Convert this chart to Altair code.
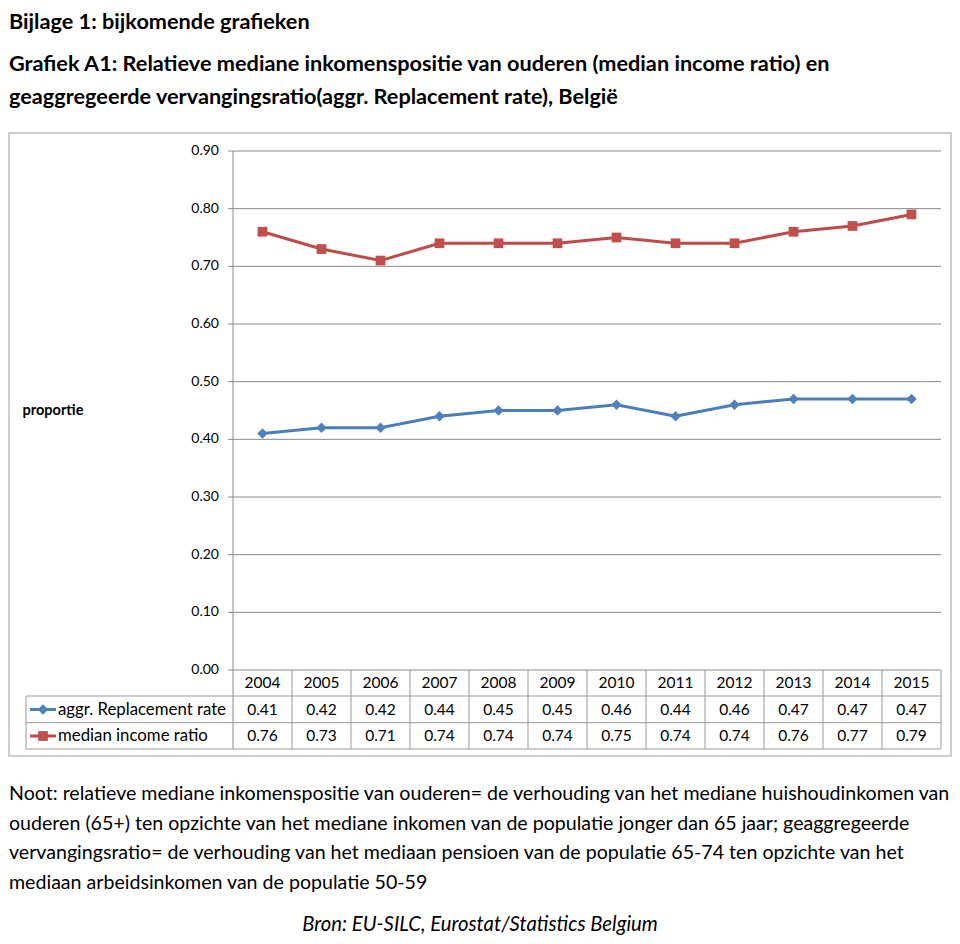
import altair as alt
import pandas as pd

# ---------------- data ----------------
years = [2004, 2005, 2006, 2007, 2008, 2009, 2010, 2011, 2012, 2013, 2014, 2015]
replacement_rate = [0.41, 0.42, 0.42, 0.44, 0.45, 0.45, 0.46, 0.44, 0.46, 0.47, 0.47, 0.47]
median_income_ratio = [0.76, 0.73, 0.71, 0.74, 0.74, 0.74, 0.75, 0.74, 0.74, 0.76, 0.77, 0.79]
y_ticks = [0.0, 0.1, 0.2, 0.3, 0.4, 0.5, 0.6, 0.7, 0.8, 0.9]
series_names = ["aggr. Replacement rate", "median income ratio"]
series_values = [replacement_rate, median_income_ratio]
series_colors = ["#4A7EBB", "#BE4B48"]
series_fill = ["#4F81BD", "#C0504D"]
series_shapes = ["diamond", "square"]
series_sizes = [110, 95]
y_title = "proportie"
page_titles = [
    ("Bijlage 1: bijkomende grafieken", -122),
    ("Grafiek A1: Relatieve mediane inkomenspositie van ouderen (median income ratio) en", -80),
    ("geaggregeerde vervangingsratio(aggr. Replacement rate), België", -47),
]
note_lines = [
    "Noot: relatieve mediane inkomenspositie van ouderen= de verhouding van het mediane huishoudinkomen van",
    "ouderen (65+) ten opzichte van het mediane inkomen van de populatie jonger dan 65 jaar; geaggregeerde",
    "vervangingsratio= de verhouding van het mediaan pensioen van de populatie 65-74 ten opzichte van het",
    "mediaan arbeidsinkomen van de populatie 50-59",
]
source_text = "Bron: EU-SILC, Eurostat/Statistics Belgium"

# ---------------- layout ----------------
W, H = 708, 519
PL, PT = 225, 143
TOTAL_W, TOTAL_H = 944, 928
FONT = "Lato"
GRID = "#8a8a8a"
TABLE = "#9a9a9a"

ROW_Y = [545, 571.7, 598]   # table row bottoms
ROW_C = [532, 558.5, 585]   # table row centers
LEFT_BOX = -207

xs = alt.Scale(domain=[2003.5, 2015.5], nice=False, zero=False)
ys = alt.Scale(domain=[0, 0.9], nice=False, zero=False)

one = pd.DataFrame({"k": [0]})
long_df = pd.DataFrame({
    "year": years * 2,
    "value": replacement_rate + median_income_ratio,
    "series": [series_names[0]] * len(years) + [series_names[1]] * len(years),
})
ticks_df = pd.DataFrame({"t": y_ticks})
bounds_df = pd.DataFrame({"b": [y + 0.5 for y in years]})
years_df = pd.DataFrame({"year": years, "label": [str(y) for y in years]})

layers = []

# chart border
layers.append(alt.Chart(one).mark_rect(fillOpacity=0, stroke="#bdbdbd", strokeWidth=1.5).encode(
    x=alt.value(-224), x2=alt.value(718), y=alt.value(-18), y2=alt.value(605)))

# gridlines
layers.append(alt.Chart(ticks_df).mark_rule(color=GRID, strokeWidth=1).encode(
    y=alt.Y("t:Q", scale=ys, axis=None), x=alt.value(-5), x2=alt.value(W)))

# axis / table vertical lines
layers.append(alt.Chart(one).mark_rule(color=GRID, strokeWidth=1).encode(
    x=alt.value(0), y=alt.value(0), y2=alt.value(ROW_Y[2])))
layers.append(alt.Chart(bounds_df).mark_rule(color=TABLE, strokeWidth=1).encode(
    x=alt.X("b:Q", scale=xs, axis=None), y=alt.value(H), y2=alt.value(ROW_Y[2])))
layers.append(alt.Chart(one).mark_rule(color=TABLE, strokeWidth=1).encode(
    x=alt.value(LEFT_BOX), y=alt.value(ROW_Y[0]), y2=alt.value(ROW_Y[2])))
for ry in ROW_Y:
    layers.append(alt.Chart(one).mark_rule(color=TABLE, strokeWidth=1).encode(
        x=alt.value(LEFT_BOX), x2=alt.value(W), y=alt.value(ry)))

# series lines and markers
color_scale = alt.Scale(domain=series_names, range=series_colors)
layers.append(alt.Chart(long_df).mark_line(strokeWidth=3).encode(
    x=alt.X("year:Q", scale=xs, axis=None),
    y=alt.Y("value:Q", scale=ys, axis=None),
    color=alt.Color("series:N", scale=color_scale, legend=None),
    detail="series:N"))
for i, name in enumerate(series_names):
    sdf = pd.DataFrame({"year": years, "value": series_values[i]})
    layers.append(alt.Chart(sdf).mark_point(filled=True, opacity=1, shape=series_shapes[i],
                                            size=series_sizes[i], color=series_fill[i]).encode(
        x=alt.X("year:Q", scale=xs, axis=None),
        y=alt.Y("value:Q", scale=ys, axis=None)))

# y tick labels
layers.append(alt.Chart(ticks_df).mark_text(align="right", baseline="middle", font=FONT,
                                            fontSize=14, color="#000").encode(
    y=alt.Y("t:Q", scale=ys, axis=None), x=alt.value(-14),
    text=alt.Text("t:Q", format=".2f")))

# y title
layers.append(alt.Chart(pd.DataFrame({"s": [y_title]})).mark_text(
    align="center", baseline="middle", font=FONT, fontSize=14.5, fontWeight="bold", color="#000").encode(
    x=alt.value(-180), y=alt.value(260), text="s:N"))

# table: years row
layers.append(alt.Chart(years_df).mark_text(align="center", baseline="middle", font=FONT,
                                            fontSize=15.5, color="#000").encode(
    x=alt.X("year:Q", scale=xs, axis=None), y=alt.value(ROW_C[0]), text="label:N"))

# table: series rows
for i, name in enumerate(series_names):
    sdf = pd.DataFrame({"year": years, "value": series_values[i]})
    layers.append(alt.Chart(sdf).mark_text(align="center", baseline="middle", font=FONT,
                                           fontSize=15.5, color="#000").encode(
        x=alt.X("year:Q", scale=xs, axis=None), y=alt.value(ROW_C[i + 1]),
        text=alt.Text("value:Q", format=".2f")))
    layers.append(alt.Chart(pd.DataFrame({"s": [name]})).mark_text(
        align="left", baseline="middle", font=FONT, fontSize=16.8, color="#000").encode(
        x=alt.value(-175), y=alt.value(ROW_C[i + 1]), text="s:N"))
    layers.append(alt.Chart(one).mark_rule(color=series_colors[i], strokeWidth=3).encode(
        x=alt.value(-203), x2=alt.value(-177), y=alt.value(ROW_C[i + 1])))
    layers.append(alt.Chart(one).mark_point(filled=True, opacity=1, shape=series_shapes[i],
                                            size=series_sizes[i], color=series_fill[i]).encode(
        x=alt.value(-190), y=alt.value(ROW_C[i + 1])))

# page titles
for txt, yb in page_titles:
    layers.append(alt.Chart(pd.DataFrame({"s": [txt]})).mark_text(
        align="left", baseline="alphabetic", font=FONT, fontSize=21.7, fontWeight="bold", color="#000").encode(
        x=alt.value(-224), y=alt.value(yb), text="s:N"))

# notes
for j, line in enumerate(note_lines):
    layers.append(alt.Chart(pd.DataFrame({"s": [line]})).mark_text(
        align="left", baseline="alphabetic", font=FONT, fontSize=19.6, color="#000").encode(
        x=alt.value(-224), y=alt.value(649 + j * 29.5), text="s:N"))

layers.append(alt.Chart(pd.DataFrame({"s": [source_text]})).mark_text(
    align="center", baseline="alphabetic", font=FONT, fontSize=20.3, fontStyle="italic", color="#000").encode(
    x=alt.value(480 - 233), y=alt.value(780), text="s:N"))

chart = alt.layer(*layers).properties(
    width=W, height=H,
    padding={"left": PL, "top": PT, "right": TOTAL_W - PL - W, "bottom": TOTAL_H - PT - H},
    autosize=alt.AutoSizeParams(type="none"),
).configure_view(stroke=None)

chart.save("out.html", embed_options={"renderer": "svg", "actions": False})
